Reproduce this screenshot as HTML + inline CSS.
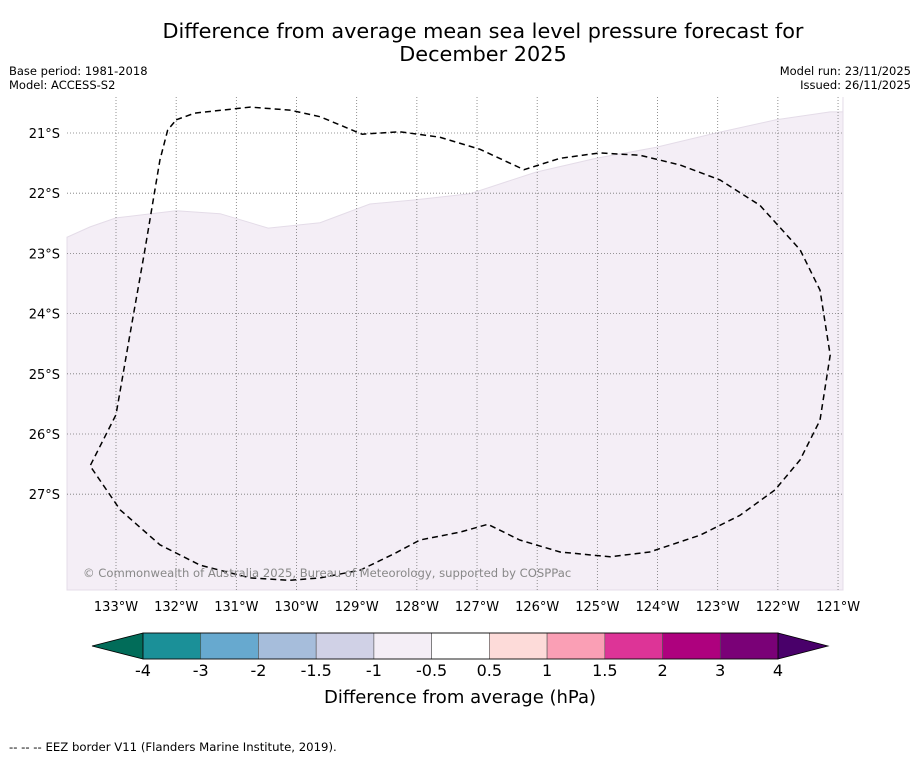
<!DOCTYPE html>
<html><head><meta charset="utf-8"><style>
html,body{margin:0;padding:0;background:#fff;}
svg{display:block;font-family:"DejaVu Sans","Liberation Sans",sans-serif;}
</style></head><body>
<svg id="s" width="919" height="758" viewBox="0 0 919 758">
<text x="483" y="38" font-size="20.8" text-anchor="middle">Difference from average mean sea level pressure forecast for</text>
<text x="483" y="61" font-size="20.8" text-anchor="middle">December 2025</text>
<text x="9" y="75" font-size="11.5">Base period: 1981-2018</text>
<text x="9" y="89" font-size="11.5">Model: ACCESS-S2</text>
<text x="911" y="75" font-size="11.5" text-anchor="end">Model run: 23/11/2025</text>
<text x="911" y="89" font-size="11.5" text-anchor="end">Issued: 26/11/2025</text>
<g id="map"></g>
<g id="cbar"></g>
<text x="460" y="703" font-size="18" text-anchor="middle">Difference from average (hPa)</text>
<text x="9" y="751" font-size="11.7">--  --  -- EEZ border V11 (Flanders Marine Institute, 2019).</text>
</svg>
<script>
const lonTicks=[133,132,131,130,129,128,127,126,125,124,123,122,121];
const latTicks=[21,22,23,24,25,26,27];
const shadeLon=[133.81,133.43,133,132,131.27,130.47,129.61,128.78,128.01,127.12,126.02,125.02,124.03,123.03,122.03,121.13,120.92];
const shadeLat=[22.73,22.56,22.41,22.29,22.34,22.58,22.49,22.18,22.11,22.01,21.65,21.42,21.24,21.0,20.78,20.65,20.65];
const eezLon=[132,131.69,130.77,130.11,129.61,128.91,128.28,127.62,126.95,126.22,125.62,124.96,124.29,123.63,122.96,122.30,121.63,121.30,121.13,121.30,121.63,122.05,122.63,123.29,124.13,124.79,125.62,126.29,126.82,127.28,127.95,128.36,128.94,129.61,130.11,130.77,131.60,132.27,132.93,133.43,133,132.77,132.52,132.27,132.14,132];
const eezLat=[20.78,20.67,20.57,20.62,20.73,21.02,20.98,21.07,21.27,21.61,21.42,21.33,21.37,21.53,21.78,22.20,22.94,23.61,24.69,25.77,26.43,26.93,27.35,27.68,27.96,28.04,27.96,27.76,27.50,27.63,27.76,27.98,28.26,28.39,28.43,28.39,28.18,27.84,27.26,26.53,25.68,24.36,22.94,21.45,20.95,20.78];
const cbLabels=["-4","-3","-2","-1.5","-1","-0.5","0.5","1","1.5","2","3","4"];
const cbColors=["#1b9098","#67a9cf","#a6bddb","#d0d1e6","#f4eef6","#ffffff","#fddbd9","#fa9fb5","#dd3497","#ae017e","#7a0177"];
const ns="http://www.w3.org/2000/svg";
const X=lon=>116+(133-lon)*60.17, Y=lat=>133+(lat-21)*60.2;
const L=67,R=843,T=97,B=590;
function mk(p,t,a){const e=document.createElementNS(ns,t);for(const k in a)e.setAttribute(k,a[k]);p.appendChild(e);return e;}
const map=document.getElementById('map');
let d="M"+L+","+B+" L"+L+","+Y(shadeLat[0]);
shadeLon.forEach((v,i)=>{d+=" L"+X(v).toFixed(1)+","+Y(shadeLat[i]).toFixed(1);});
d+=" L"+R+","+T+" L"+R+","+B+" Z";
const sh=mk(map,'path',{d:d,fill:'#f4eef6',stroke:'#e4dce8','stroke-width':1});


lonTicks.forEach(v=>{const x=X(v);
 const g=mk(map,'line',{x1:x,x2:x,y1:T,y2:B,stroke:'#777','stroke-width':0.8,'stroke-dasharray':'1,2'});
 
 
 const t=mk(map,'text',{x:x,y:611,'font-size':13,'text-anchor':'middle'});t.textContent=v+"°W";
 
 
});
latTicks.forEach(v=>{const y=Y(v);
 const g=mk(map,'line',{x1:L,x2:R,y1:y,y2:y,stroke:'#777','stroke-width':0.8,'stroke-dasharray':'1,2'});
 
 
 const t=mk(map,'text',{x:60,y:y+5,'font-size':13,'text-anchor':'end'});t.textContent=v+"°S";
 
 
});
let e="";eezLon.forEach((v,i)=>{e+=(i?" L":"M")+X(v).toFixed(1)+","+Y(eezLat[i]).toFixed(1);});
const ez=mk(map,'path',{d:e,fill:'none',stroke:'#000','stroke-width':1.5,'stroke-dasharray':'6,4','stroke-linejoin':'round'});


const cp=mk(map,'text',{x:83,y:577,'font-size':11.6,fill:'#888'});cp.textContent="© Commonwealth of Australia 2025, Bureau of Meteorology, supported by COSPPac";


const cb=document.getElementById('cbar');
const x0=143,x1=778,cy0=633,cy1=659,w=(x1-x0)/cbColors.length;
const lt=mk(cb,'polygon',{points:`92,646 ${x0},${cy0} ${x0},${cy1}`,fill:'#016c59',stroke:'#000','stroke-width':0.8});


const rt=mk(cb,'polygon',{points:`828,646 ${x1},${cy0} ${x1},${cy1}`,fill:'#49006a',stroke:'#000','stroke-width':0.8});


cbColors.forEach((c,i)=>{const r=mk(cb,'rect',{x:x0+i*w,y:cy0,width:w,height:cy1-cy0,fill:c,stroke:'#555','stroke-width':0.6});
 
 });
mk(cb,'rect',{x:x0,y:cy0,width:x1-x0,height:cy1-cy0,fill:'none',stroke:'#000','stroke-width':0.8});
cbLabels.forEach((s,i)=>{const t=mk(cb,'text',{x:x0+i*w,y:676,'font-size':16,'text-anchor':'middle'});t.textContent=s;
 
 });
</script>
</body></html>
